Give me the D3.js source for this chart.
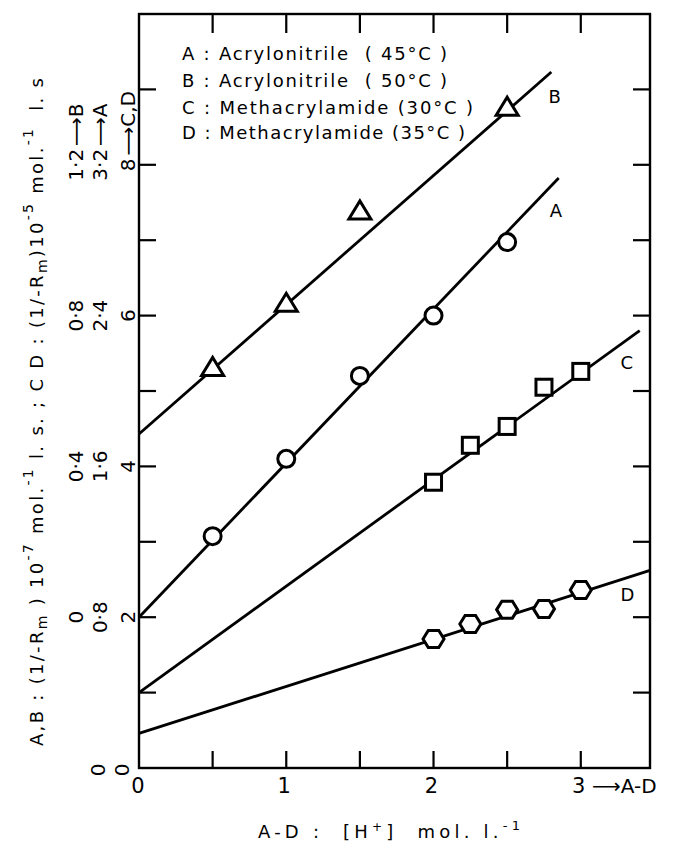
<!DOCTYPE html>
<html><head><meta charset="utf-8">
<script src="https://cdn.jsdelivr.net/npm/d3@7"></script>
<style>
body{margin:0;background:#fff;}
svg text{font-family:"DejaVu Sans",sans-serif;fill:#000;white-space:pre;}
</style></head>
<body><svg id="c" width="676" height="846"></svg>
<script>
// ---- data ----
const xA = [0.5, 1, 1.5, 2, 2.5];
const valsA = [1.23, 1.64, 2.08, 2.40, 2.79];          // 10^-7 units
const xB = [0.5, 1, 1.5, 2.5];
const valsB = [0.66, 0.83, 1.075, 1.35];              // 10^-7 units
const xCD = [2, 2.25, 2.5, 2.75, 3];
const valsC = [3.79, 4.28, 4.53, 5.05, 5.26];          // 10^-5 units
const valsD = [1.71, 1.91, 2.10, 2.11, 2.36];          // 10^-5 units
// fitted lines: [x, value] endpoints
const lineA = [[0, 0.80], [2.85, 3.13]];
const lineB = [[0, 0.486], [2.80, 1.446]];
const lineC = [[0, 1.00], [3.40, 5.80]];
const lineD = [[0, 0.46], [3.47, 2.62]];
// tick labels
const xTickVals = [0, 1, 2, 3];
const cdTickVals = [0, 2, 4, 6, 8];
const aTickVals = [0, 0.8, 1.6, 2.4, 3.2];
const bTickVals = [0, 0.4, 0.8, 1.2];
const legendLines = [
  "A : Acrylonitrile  ( 45°C )",
  "B : Acrylonitrile  ( 50°C )",
  "C : Methacrylamide (30°C )",
  "D : Methacrylamide (35°C )"
];

const svg = d3.select("#c");
const L = 139, R = 650, T = 14, B = 768;
const x = d3.scaleLinear().domain([0, 3.47]).range([L, R]);
const yCD = d3.scaleLinear().domain([0, 10]).range([B, T]);
const yA = d3.scaleLinear().domain([0, 4]).range([B, T]);
const yB = d3.scaleLinear().domain([-0.4, 1.6]).range([B, T]);
const fmt = v => v === 0 ? "0" : String(v).replace(".", "·");

// frame
svg.append("rect").attr("x", L).attr("y", T).attr("width", R - L).attr("height", B - T)
  .attr("fill", "none").attr("stroke", "#000").attr("stroke-width", 2.4);

// ticks
const tl = 17;
const yt = d3.range(1, 10);
const xt = d3.range(0.5, 3.01, 0.5);
const tg = svg.append("g").attr("stroke", "#000").attr("stroke-width", 2.2);
yt.forEach(v => {
  tg.append("line").attr("x1", L).attr("x2", L + tl).attr("y1", yCD(v)).attr("y2", yCD(v));
  tg.append("line").attr("x1", R).attr("x2", R - tl).attr("y1", yCD(v)).attr("y2", yCD(v));
});
xt.forEach(v => {
  tg.append("line").attr("x1", x(v)).attr("x2", x(v)).attr("y1", B).attr("y2", B - tl);
  tg.append("line").attr("x1", x(v)).attr("x2", x(v)).attr("y1", T).attr("y2", T + tl + 2);
});

// rotated y tick labels
function rotLabel(cx, cy, txt, suffix) {
  const g = svg.append("g").attr("transform", `translate(${cx},${cy}) rotate(-90)`);
  const t = g.append("text").attr("text-anchor", "middle").attr("dominant-baseline", "central")
    .attr("font-size", 20).text(txt);
  if (suffix) {
    const w = t.node().getComputedTextLength();
    g.append("text").attr("x", w / 2 + 3).attr("dominant-baseline", "central")
      .attr("font-size", 20).text(suffix);
  }
}
cdTickVals.forEach(v => rotLabel(v === 0 ? 122 : 128, v === 0 ? 770 : yCD(v), fmt(v), v === 8 ? "⟶C,D" : null));
aTickVals.forEach(v => rotLabel(v === 0 ? 98 : 100, v === 0 ? 770 : yA(v), fmt(v), v === 3.2 ? "⟶A" : null));
bTickVals.forEach(v => rotLabel(76, yB(v), fmt(v), v === 1.2 ? "⟶B" : null));

// x tick labels
xTickVals.forEach(v => {
  svg.append("text").attr("x", v === 0 ? 138 : x(v) - 2).attr("y", 793).attr("text-anchor", "middle")
    .attr("font-size", 21).text(v);
});
svg.append("text").attr("x", 592).attr("y", 793).attr("font-size", 20).text("⟶A-D");

// x axis title
const xl = svg.append("text").attr("x", 258).attr("y", 838).attr("font-size", 18)
  .attr("textLength", 262).attr("lengthAdjust", "spacing");
xl.append("tspan").text("A-D :  [H");
xl.append("tspan").attr("dy", -7).attr("font-size", 12).text("+");
xl.append("tspan").attr("dy", 7).text("]  mol. l.");
xl.append("tspan").attr("dy", -8).attr("font-size", 13).text("-1");

// y axis title
const yg = svg.append("g").attr("transform", "translate(36,412) rotate(-90)");
const ylab = yg.append("text").attr("text-anchor", "middle").attr("dominant-baseline", "central")
  .attr("font-size", 18).attr("textLength", 668).attr("lengthAdjust", "spacing");
ylab.append("tspan").text("A,B : (1/-R");
ylab.append("tspan").attr("dy", 6).attr("font-size", 14).text("m");
ylab.append("tspan").attr("dy", -6).text(" ) 10");
ylab.append("tspan").attr("dy", -8).attr("font-size", 14).text("-7");
ylab.append("tspan").attr("dy", 8).text(" mol.");
ylab.append("tspan").attr("dy", -8).attr("font-size", 14).text("-1");
ylab.append("tspan").attr("dy", 8).text(" l. s. ; C D : (1/-R");
ylab.append("tspan").attr("dy", 6).attr("font-size", 14).text("m");
ylab.append("tspan").attr("dy", -6).text(")10");
ylab.append("tspan").attr("dy", -8).attr("font-size", 14).text("-5");
ylab.append("tspan").attr("dy", 8).text(" mol.");
ylab.append("tspan").attr("dy", -8).attr("font-size", 14).text("-1");
ylab.append("tspan").attr("dy", 8).text("  l. s");

// legend
const legY = [60, 87, 114, 139];
const legW = [265, 265, 291, 283];
legendLines.forEach((s, i) => {
  svg.append("text").attr("x", 182).attr("y", legY[i]).attr("font-size", 18)
    .attr("textLength", legW[i]).attr("lengthAdjust", "spacing").text(s);
});

// lines
const lineGen = yS => d3.line().x(d => x(d[0])).y(d => yS(d[1]));
const lg = svg.append("g").attr("fill", "none").attr("stroke", "#000").attr("stroke-width", 2.8);
lg.append("path").attr("d", lineGen(yA)(lineA));
lg.append("path").attr("d", lineGen(yB)(lineB));
lg.append("path").attr("d", lineGen(yCD)(lineC));
lg.append("path").attr("d", lineGen(yCD)(lineD));

// markers
const mg = svg.append("g").attr("fill", "#fff").attr("stroke", "#000").attr("stroke-width", 3);
xB.forEach((xv, i) => {
  const cx = x(xv), cy = yB(valsB[i]);
  mg.append("path").attr("d", `M${cx - 11},${cy + 7}L${cx + 11},${cy + 7}L${cx},${cy - 11}Z`)
    .attr("stroke-linejoin", "miter");
});
xA.forEach((xv, i) => {
  mg.append("circle").attr("cx", x(xv)).attr("cy", yA(valsA[i])).attr("r", 8.5);
});
xCD.forEach((xv, i) => {
  mg.append("rect").attr("x", x(xv) - 8).attr("y", yCD(valsC[i]) - 8).attr("width", 16).attr("height", 16);
});
xCD.forEach((xv, i) => {
  const cx = x(xv), cy = yCD(valsD[i]);
  const w = 10.5, h = 8.5;
  mg.append("path").attr("d",
    `M${cx - w},${cy}L${cx - w / 2},${cy - h}L${cx + w / 2},${cy - h}L${cx + w},${cy}L${cx + w / 2},${cy + h}L${cx - w / 2},${cy + h}Z`);
});

// series labels
[["B", 2.78, yCD(8.9)], ["A", 2.79, yCD(7.4)], ["C", 3.27, yCD(5.38)], ["D", 3.27, yCD(2.3)]]
  .forEach(d => svg.append("text").attr("x", x(d[1])).attr("y", d[2]).attr("font-size", 18)
    .attr("dominant-baseline", "central").text(d[0]));
</script></body></html>
